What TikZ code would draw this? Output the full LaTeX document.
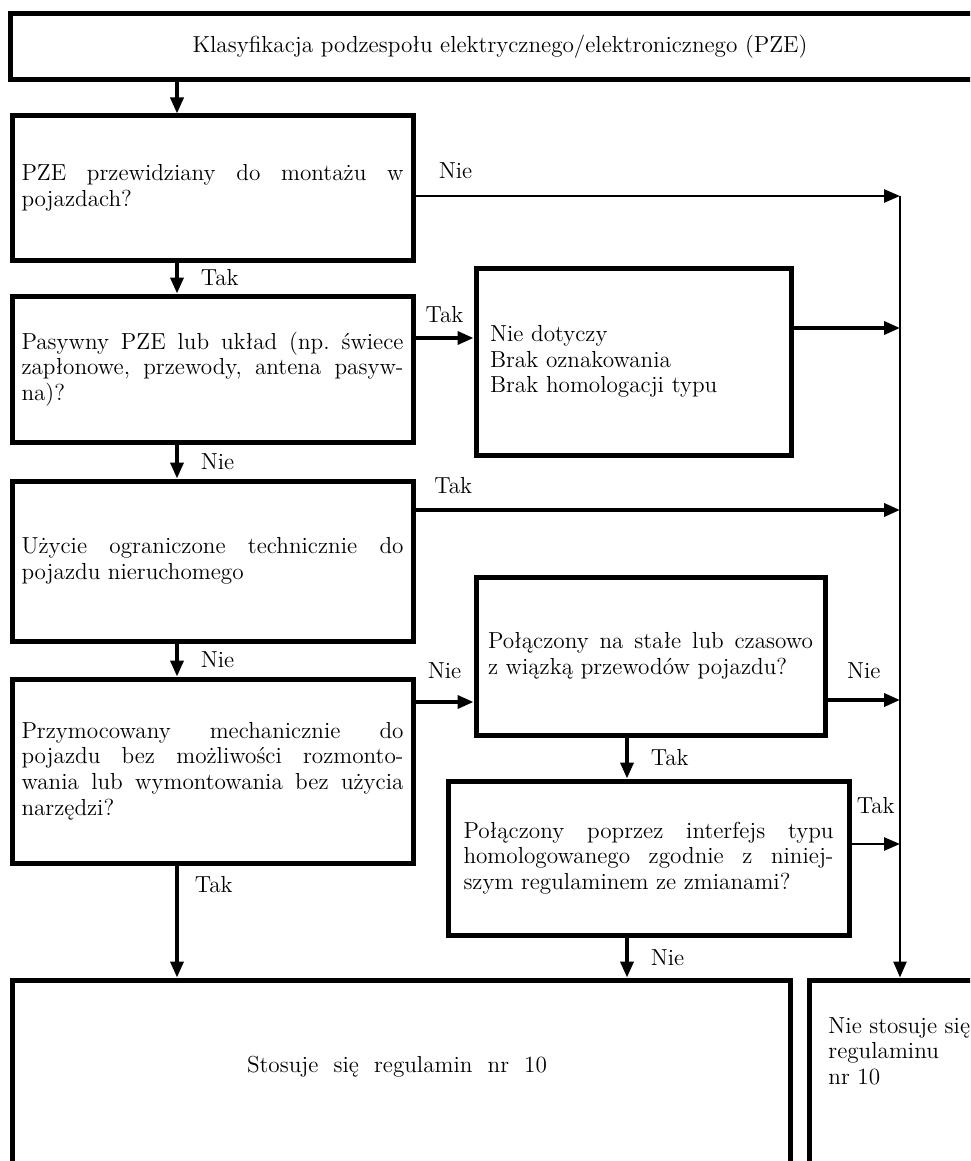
\documentclass[tikz,border=0pt]{standalone}
\usepackage{fontspec}
\usetikzlibrary{arrows.meta,calc}

\tikzset{
  box/.style={draw, line width=2.5pt, inner sep=0pt},
  qtext/.style={text width=191pt, align=justify},
  flow/.style={line width=1.8pt, -{Triangle[length=8pt,width=6.5pt]}},
  thinflow/.style={line width=1.3pt, -{Triangle[length=8pt,width=6.5pt]}},
  lbl/.style={inner sep=1pt},
}

\begin{document}
\begin{tikzpicture}[x=0.5pt, y=-0.5pt,
    font={\fontsize{11.6}{12.8}\selectfont\frenchspacing\hyphenpenalty=10000}]
  % Obszar rysunku (piksele, y w dol)
  \useasboundingbox (0,0) rectangle (970,1161);
  \clip (0,0) rectangle (970,1161);

  % Bloki
  \node[box, minimum width=490pt, minimum height=33pt] (top) at (500,47)
    {Klasyfikacja podzespołu elektrycznego/elektronicznego (PZE)};
  \node[box, qtext, minimum width=200.5pt, minimum height=72pt] (mount) at (212.5,188)
    {PZE przewidziany do montażu w\linebreak pojazdach?};
  \node[box, qtext, minimum width=200.5pt, minimum height=73pt] (passive) at (212.5,369)
    {Pasywny PZE lub układ (np. świece\linebreak zapłonowe, przewody, antena pasyw-\linebreak na)?};
  \node[box, text width=143.5pt, align=left, minimum width=157.5pt, minimum height=93.5pt] (na) at (633.5,361.5)
    {Nie dotyczy\\ Brak oznakowania\\ Brak homologacji typu};
  \node[box, qtext, minimum width=200.5pt, minimum height=80pt] (stationary) at (212.5,561)
    {Użycie ograniczone technicznie do\linebreak pojazdu nieruchomego};
  \node[box, qtext, text width=162.5pt, minimum width=174.5pt, minimum height=79pt] (harness) at (650.5,656)
    {Połączony na stałe lub czasowo\linebreak z wiązką przewodów pojazdu?};
  \node[box, qtext, minimum width=200.5pt, minimum height=92pt] (fixed) at (212.5,771)
    {Przymocowany mechanicznie do\linebreak pojazdu bez możliwości rozmonto-\linebreak wania lub wymontowania bez użycia\linebreak narzędzi?};
  \node[box, qtext, text width=185pt, minimum width=200.5pt, minimum height=77pt] (iface) at (648.5,858)
    {Połączony poprzez interfejs typu\linebreak homologowanego zgodnie z niniej-\linebreak szym regulaminem ze zmianami?};
  \node[box, minimum width=389pt, minimum height=120pt] (apply) at (401,1100) {};
  \node (applytext) at (397,1067) {Stosuje\ \ się\ \ regulamin\ \ nr\ \ 10};
  \node[box, minimum width=100.5pt, minimum height=120pt] (notapply) at (909.5,1100) {};
  \node[anchor=north west, align=left, inner sep=0pt] (notapplytext) at (828,1017)
    {Nie stosuje się\\ regulaminu\\ nr 10};

  % Punkty pomocnicze
  \coordinate (col) at (177,0);
  \coordinate (col2) at (627,0);
  \coordinate (naIn) at (476,338);
  \coordinate (harnessIn) at (476,702);
  \coordinate (bus1) at (900,196);
  \coordinate (bus2) at (900,328);
  \coordinate (bus3) at (900,510);
  \coordinate (bus4) at (900,700);
  \coordinate (bus5) at (900,844);

  % Lewa kolumna
  \draw[flow] (top.south -| col) -- (mount.north -| col);
  \draw[flow] (mount.south -| col) -- node[lbl, right=10pt] (l1) {Tak} (passive.north -| col);
  \draw[flow] (passive.south -| col) -- node[lbl, right=10pt] (l2) {Nie} (stationary.north -| col);
  \draw[flow] (stationary.south -| col) -- node[lbl, right=10pt] (l3) {Nie} (fixed.north -| col);
  \draw[flow] (fixed.south -| col) -- node[lbl, pos=0.17, right=7pt] (l4) {Tak} (apply.north -| col);

  % Srodkowa kolumna
  \draw[flow] (passive.east |- naIn) -- node[lbl, above=5.5pt] (l5) {Tak} (na.west |- naIn);
  \draw[flow] (fixed.east |- harnessIn) -- node[lbl, above=9.5pt] (l6) {Nie} (harness.west |- harnessIn);
  \draw[flow] (harness.south -| col2) -- node[lbl, right=10pt] (l7) {Tak} (iface.north -| col2);
  \draw[flow] (iface.south -| col2) -- node[lbl, right=10pt] (l8) {Nie} (apply.north -| col2);

  % Do szyny po prawej
  \draw[thinflow] (mount.east |- bus1) -- node[lbl, pos=0, anchor=south west, xshift=10pt, yshift=7pt] (l9) {Nie} (bus1);
  \draw[flow] (na.east |- bus2) -- (bus2);
  \draw[flow] (stationary.east |- bus3) -- node[lbl, pos=0, anchor=south west, xshift=7.5pt, yshift=6pt] (l10) {Tak} (bus3);
  \draw[flow] (harness.east |- bus4) -- node[lbl, above=8.5pt] (l11) {Nie} (bus4);
  \draw[thinflow] (iface.east |- bus5) -- node[lbl, above=13.5pt] (l12) {Tak} (bus5);
  \draw[thinflow] (bus1) -- (notapply.north -| bus1);
\end{tikzpicture}
\end{document}
